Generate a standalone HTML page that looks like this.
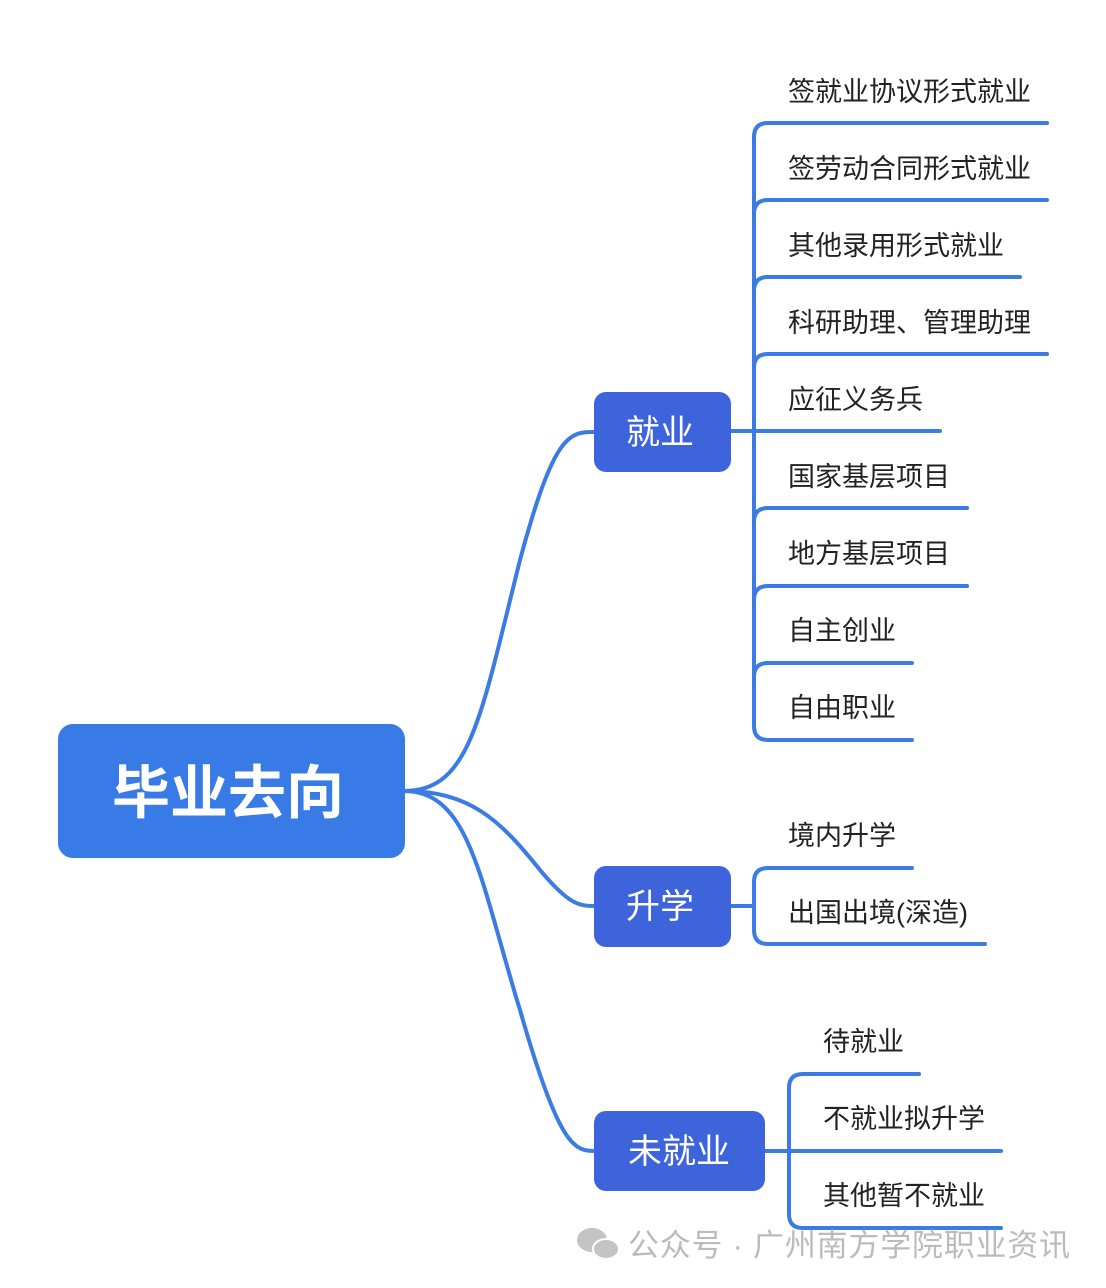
<!DOCTYPE html>
<html><head><meta charset="utf-8"><style>
html,body{margin:0;padding:0;background:#fff;}
svg{display:block;}
text{font-family:"Liberation Sans","Noto Sans CJK SC",sans-serif;}
</style></head><body>
<svg width="1106" height="1288" viewBox="0 0 1106 1288" xmlns="http://www.w3.org/2000/svg">
<g fill="none" stroke="#3a7be4" stroke-width="4" stroke-linecap="round">
<path d="M404 791 C 470 791, 480 720, 520 560 C 555 430, 570 432, 596 432"/>
<path d="M404 791 C 470 791, 500 820, 540 870 C 570 906, 580 906, 596 906"/>
<path d="M404 791 C 470 791, 480 880, 520 1010 C 560 1150, 575 1151, 596 1151"/>
<path d="M730 431 H754"/>
<path d="M1047 123 H768 Q754 123 754 137 V726 Q754 740 768 740 H912"/>
<path d="M754 214 Q754 200 768 200 H1047"/>
<path d="M754 291 Q754 277 768 277 H1020"/>
<path d="M754 368 Q754 354 768 354 H1047"/>
<path d="M754 431 H940"/>
<path d="M754 522 Q754 508 768 508 H967"/>
<path d="M754 600 Q754 586 768 586 H967"/>
<path d="M754 677 Q754 663 768 663 H912"/>
<path d="M730 906 H754"/>
<path d="M912 868 H768 Q754 868 754 882 V930 Q754 944 768 944 H985"/>
<path d="M765 1151 H1001"/>
<path d="M919 1074 H803 Q789 1074 789 1088 V1214 Q789 1228 803 1228 H1001"/>
</g>
<rect x="58" y="724" width="347" height="134" rx="15" fill="#387ae6"/>
<text x="228" y="813" font-size="58" font-weight="bold" fill="#fff" text-anchor="middle">毕业去向</text>
<rect x="594" y="392" width="137" height="80" rx="12" fill="#3e64dc"/>
<text x="660" y="444" font-size="34" fill="#fff" text-anchor="middle">就业</text>
<rect x="594" y="866" width="137" height="81" rx="12" fill="#3e64dc"/>
<text x="660" y="918" font-size="34" fill="#fff" text-anchor="middle">升学</text>
<rect x="594" y="1111" width="171" height="80" rx="12" fill="#3e64dc"/>
<text x="679" y="1163" font-size="34" fill="#fff" text-anchor="middle">未就业</text>
<g font-size="27" fill="#222">
<text x="788" y="101">签就业协议形式就业</text>
<text x="788" y="178">签劳动合同形式就业</text>
<text x="788" y="255">其他录用形式就业</text>
<text x="788" y="332">科研助理、管理助理</text>
<text x="788" y="409">应征义务兵</text>
<text x="788" y="486">国家基层项目</text>
<text x="788" y="563">地方基层项目</text>
<text x="788" y="640">自主创业</text>
<text x="788" y="717">自由职业</text>
<text x="788" y="845">境内升学</text>
<text x="788" y="922">出国出境(深造)</text>
<text x="823" y="1051">待就业</text>
<text x="823" y="1128">不就业拟升学</text>
<text x="823" y="1205">其他暂不就业</text>
</g>
<g fill="#c4c4c4">
<ellipse cx="592" cy="1240" rx="15" ry="12"/>
<ellipse cx="606" cy="1249" rx="13" ry="10" stroke="#fff" stroke-width="2"/>
</g>
<text x="628" y="1256" font-size="31" fill="#bbbbbb" textLength="442" lengthAdjust="spacing">公众号 · 广州南方学院职业资讯</text>
</svg>
</body></html>
